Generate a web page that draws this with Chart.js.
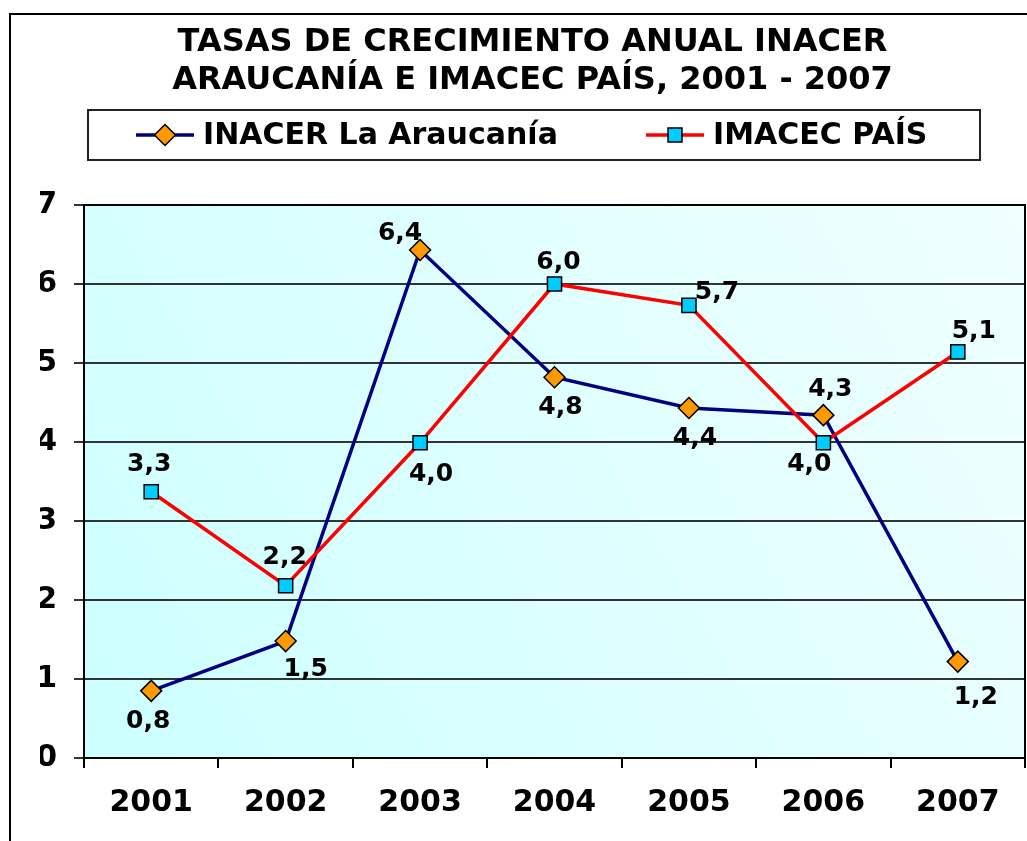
<!DOCTYPE html>
<html lang="es">
<head>
<meta charset="utf-8">
<title>Tasas de crecimiento anual INACER Araucanía e IMACEC País</title>
<script src="https://cdn.jsdelivr.net/npm/chart.js@4/dist/chart.umd.min.js"></script>
<style>
  html, body { margin: 0; padding: 0; background: #fff; overflow: hidden; }
  #grafico { display: block; }
</style>
</head>
<body>
<canvas id="grafico" width="1027" height="841"></canvas>
<script>
// datos
const anios = ['2001', '2002', '2003', '2004', '2005', '2006', '2007'];
const inacer = [0.85, 1.48, 6.43, 4.82, 4.43, 4.34, 1.22];
const imacec = [3.37, 2.18, 3.99, 6.00, 5.73, 3.99, 5.14];
const etiquetasInacer = ['0,8', '1,5', '6,4', '4,8', '4,4', '4,3', '1,2'];
const etiquetasImacec = ['3,3', '2,2', '4,0', '6,0', '5,7', '4,0', '5,1'];
const ejeYmin = 0, ejeYmax = 7, ejeYpaso = 1;
const titulo = ['TASAS DE CRECIMIENTO ANUAL INACER', 'ARAUCANÍA E IMACEC PAÍS, 2001 - 2007'];
const nombres = ['INACER La Araucanía', 'IMACEC PAÍS'];

const FUENTE = '"DejaVu Sans", Verdana, sans-serif';

// desplazamiento de cada etiqueta respecto a su punto (px)
const posInacer = [[-3, 31], [20, 28], [-20, -17], [6, 30], [6, 30], [7, -26], [18, 36]];
const posImacec = [[-2, -27], [-1, -28], [11, 32], [4, -22], [28, -13], [-14, 22], [16, -20]];

function marcador(ctx, tipo, x, y, relleno) {
  ctx.save();
  ctx.beginPath();
  if (tipo === 'rombo') {
    const r = 10.5;
    ctx.moveTo(x, y - r); ctx.lineTo(x + r, y); ctx.lineTo(x, y + r); ctx.lineTo(x - r, y);
    ctx.closePath();
  } else {
    ctx.rect(x - 7, y - 7, 14, 14);
  }
  ctx.fillStyle = relleno;
  ctx.fill();
  ctx.lineWidth = 1.5;
  ctx.strokeStyle = '#000';
  ctx.stroke();
  ctx.restore();
}

// fondo, marco exterior y degradado del área de trazado
const fondo = {
  id: 'fondo',
  beforeDraw(chart) {
    const { ctx, chartArea: a } = chart;
    ctx.save();
    ctx.fillStyle = '#fff';
    ctx.fillRect(0, 0, chart.width, chart.height);
    // marco exterior: sólo se ven los bordes izquierdo y superior
    ctx.beginPath();
    ctx.moveTo(10, chart.height + 5);
    ctx.lineTo(10, 14);
    ctx.lineTo(chart.width + 5, 14);
    ctx.lineWidth = 2;
    ctx.strokeStyle = '#000';
    ctx.stroke();
    const g = ctx.createLinearGradient(a.left, a.bottom, a.right, a.top);
    g.addColorStop(0, '#CCFFFF');
    g.addColorStop(1, '#F0FFFF');
    ctx.fillStyle = g;
    ctx.fillRect(a.left, a.top, a.right - a.left, a.bottom - a.top);
    ctx.restore();
  },
  beforeDatasetsDraw(chart) {
    const { ctx, chartArea: a } = chart;
    ctx.save();
    ctx.lineWidth = 2;
    ctx.strokeStyle = '#000';
    ctx.strokeRect(a.left, a.top, a.right - a.left, a.bottom - a.top);
    ctx.restore();
  }
};

// etiquetas de valores
const etiquetas = {
  id: 'etiquetas',
  afterDatasetsDraw(chart) {
    const ctx = chart.ctx;
    const textos = [etiquetasInacer, etiquetasImacec];
    const pos = [posInacer, posImacec];
    ctx.save();
    ctx.font = 'bold 25px ' + FUENTE;
    ctx.fillStyle = '#000';
    ctx.textAlign = 'center';
    ctx.textBaseline = 'middle';
    chart.data.datasets.forEach((ds, i) => {
      chart.getDatasetMeta(i).data.forEach((p, j) => {
        ctx.fillText(textos[i][j], p.x + pos[i][j][0], p.y + pos[i][j][1]);
      });
    });
    ctx.restore();
  }
};

// leyenda con recuadro
const leyenda = {
  id: 'leyenda',
  afterDraw(chart) {
    const ctx = chart.ctx;
    ctx.save();
    ctx.lineWidth = 2;
    ctx.strokeStyle = '#222';
    ctx.strokeRect(88, 110, 892, 50);
    const items = [
      { x: 136, color: '#000080', tipo: 'rombo', relleno: '#FF9900' },
      { x: 646, color: '#FF0000', tipo: 'cuadro', relleno: '#00CCFF' }
    ];
    const y = 135;
    ctx.font = 'bold 30px ' + FUENTE;
    ctx.textBaseline = 'middle';
    ctx.fillStyle = '#000';
    items.forEach((it, i) => {
      ctx.beginPath();
      ctx.moveTo(it.x, y);
      ctx.lineTo(it.x + 58, y);
      ctx.lineWidth = 3.5;
      ctx.strokeStyle = it.color;
      ctx.stroke();
      marcador(ctx, it.tipo, it.x + 29, y, it.relleno);
      ctx.fillText(nombres[i], it.x + 67, y + 1);
    });
    ctx.restore();
  }
};

new Chart(document.getElementById('grafico'), {
  type: 'line',
  data: {
    labels: anios,
    datasets: [
      {
        label: nombres[0],
        data: inacer,
        order: 1,
        borderColor: '#000080',
        borderWidth: 3.5,
        pointStyle: 'rectRot',
        pointRadius: 10.5,
        pointBackgroundColor: '#FF9900',
        pointBorderColor: '#000',
        pointBorderWidth: 1.5,
        tension: 0,
        fill: false
      },
      {
        label: nombres[1],
        data: imacec,
        order: 0,
        borderColor: '#FF0000',
        borderWidth: 3.5,
        pointStyle: 'rect',
        pointRadius: 10,
        pointBackgroundColor: '#00CCFF',
        pointBorderColor: '#000',
        pointBorderWidth: 1.5,
        tension: 0,
        fill: false
      }
    ]
  },
  options: {
    responsive: false,
    animation: false,
    devicePixelRatio: 1,
    events: [],
    layout: { autoPadding: false, padding: { left: 40, right: 2, top: 0, bottom: 0 } },
    plugins: {
      legend: { display: false },
      tooltip: { enabled: false },
      title: {
        display: true,
        text: titulo,
        color: '#000',
        font: { family: FUENTE, size: 32, weight: 'bold', lineHeight: 1.2 },
        padding: { top: 23, bottom: 105.2 }
      }
    },
    scales: {
      x: {
        offset: true,
        grid: { offset: true, drawOnChartArea: false, drawTicks: true, tickLength: 10, color: '#000', lineWidth: 2 },
        border: { display: true, color: '#000', width: 2 },
        ticks: { color: '#000', padding: 17, font: { family: FUENTE, size: 30, weight: 'bold' } },
        afterFit(s) { s.height = 83; s.paddingLeft = 0; s.paddingRight = 0; }
      },
      y: {
        min: ejeYmin,
        max: ejeYmax,
        grid: { color: '#333', lineWidth: 2, drawTicks: true, tickLength: 10 },
        border: { display: true, color: '#000', width: 2 },
        ticks: { stepSize: ejeYpaso, color: '#000', padding: 17, font: { family: FUENTE, size: 30, weight: 'bold' } },
        afterFit(s) { s.width = 44; }
      }
    }
  },
  plugins: [fondo, etiquetas, leyenda]
});
</script>
</body>
</html>
